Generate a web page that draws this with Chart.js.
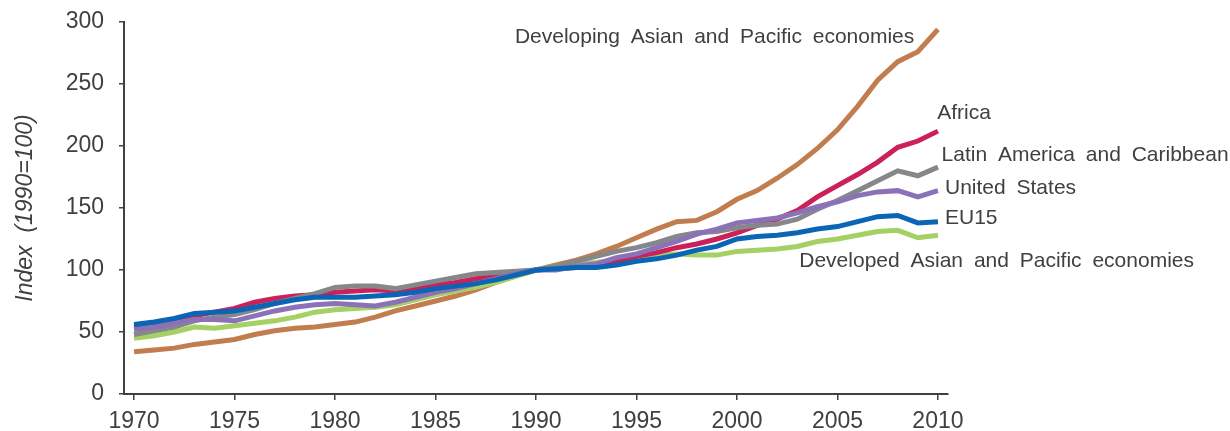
<!DOCTYPE html>
<html>
<head>
<meta charset="utf-8">
<script src="https://cdn.jsdelivr.net/npm/chart.js@4/dist/chart.umd.min.js"></script>
<style>
	body { margin: 0; background: #ffffff; }
	#chartCanvas { display: block; }
</style>
</head>
<body>
<canvas id="chartCanvas" width="1230" height="431"></canvas>
<script>
var years = [];
for(var yr = 1970; yr <= 2010; yr++){ years.push(yr); }

var xTickYears = [1970, 1975, 1980, 1985, 1990, 1995, 2000, 2005, 2010];

var developingAsia = [34, 35.5, 37, 40, 42, 44, 48, 51, 53, 54, 56, 58, 62, 67, 71, 75, 79, 84, 90, 95,
	100, 104, 108, 113, 119, 126, 133, 139, 140, 147, 157, 164, 174, 185, 198, 213, 232, 253, 268, 276, 294];
var africa = [54, 56, 59, 63, 66, 69, 74, 77, 79, 80, 82, 83, 84, 83, 85, 88, 90, 93, 96, 98,
	100, 101, 102, 104, 107, 111, 114, 118, 121, 125, 130, 136, 141, 148, 159, 168, 177, 187, 199, 204, 212];
var latinAmerica = [48, 51, 54, 59, 62, 64, 68, 73, 77, 81, 86, 87, 87, 85, 88, 91, 94, 97, 98, 99,
	100, 103, 107, 111, 115, 118, 122, 127, 130, 131, 134, 136, 137, 141, 149, 156, 164, 172, 180, 176, 183];
var unitedStates = [52, 54, 57, 60, 60, 59, 63, 67, 70, 72, 73, 72, 71, 74, 78, 82, 85, 89, 93, 97,
	100, 100, 103, 105, 110, 113, 118, 123, 129, 133, 138, 140, 142, 146, 151, 155, 160, 163, 164, 159, 164];
var eu15 = [56, 58, 61, 65, 66, 67, 70, 73, 76, 78, 78, 78, 79, 80, 82, 85, 87, 89, 92, 96,
	100, 101, 102, 102, 104, 107, 109, 112, 116, 119, 125, 127, 128, 130, 133, 135, 139, 143, 144, 138, 139];
var developedAsia = [45, 47, 50, 54, 53, 55, 57, 59, 62, 66, 68, 69, 70, 72, 76, 80, 83, 86, 90, 95,
	100, 103, 105, 106, 108, 110, 112, 113, 112, 112, 115, 116, 117, 119, 123, 125, 128, 131, 132, 126, 128];

var textColor = '#404040';
var axisColor = '#404040';

// labels written next to the lines, anchored in data space (year, index)
var lineLabels = [
	{ text: 'Developing Asian and Pacific economies', x: 1988.95, y: 288 },
	{ text: 'Africa', x: 2009.96, y: 226.5 },
	{ text: 'Latin America and Caribbean', x: 2010.18, y: 192.5 },
	{ text: 'United States', x: 2010.35, y: 166 },
	{ text: 'EU15', x: 2010.35, y: 142 },
	{ text: 'Developed Asian and Pacific economies', x: 2003.1, y: 107 }
];

function toPoints(vals){
	return years.map(function(yr, i){ return { x: yr, y: vals[i] }; });
}

function lineSet(label, vals, color){
	return { label: label, data: toPoints(vals), borderColor: color, backgroundColor: color,
		borderWidth: 5, pointRadius: 0, tension: 0, fill: false };
}

var lineLabelPlugin = {
	id: 'lineLabels',
	afterDraw: function(chart){
		var ctx = chart.ctx;
		var xs = chart.scales.x;
		var ys = chart.scales.y;
		ctx.save();
		ctx.font = '21px "Liberation Sans", Arial, sans-serif';
		ctx.fillStyle = textColor;
		ctx.textAlign = 'left';
		ctx.textBaseline = 'middle';
		if('wordSpacing' in ctx){ ctx.wordSpacing = '5px'; }
		for(var i in lineLabels){
			var lb = lineLabels[i];
			ctx.fillText(lb.text, xs.getPixelForValue(lb.x), ys.getPixelForValue(lb.y));
		}
		ctx.restore();
	}
};

var ctx = document.getElementById('chartCanvas');
var myChart = new Chart(ctx, {
	type: 'line',
	data: {
		datasets: [
			lineSet('EU15', eu15, '#0b65b5'),
			lineSet('United States', unitedStates, '#8b72b8'),
			lineSet('Latin America and Caribbean', latinAmerica, '#85878a'),
			lineSet('Africa', africa, '#cb2158'),
			lineSet('Developed Asian and Pacific economies', developedAsia, '#a4d064'),
			lineSet('Developing Asian and Pacific economies', developingAsia, '#c17d4d')
		]
	},
	options: {
		responsive: false,
		animation: false,
		layout: { padding: { top: 22, right: 282, bottom: 0, left: 0 } },
		scales: {
			x: {
				type: 'linear',
				min: 1969.5,
				max: 2010.5,
				afterBuildTicks: function(scale){
					scale.ticks = xTickYears.map(function(v){ return { value: v }; });
				},
				afterFit: function(scale){ scale.height = 37; },
				ticks: {
					color: textColor,
					font: { family: '"Liberation Sans", Arial, sans-serif', size: 23 },
					padding: 8,
					maxRotation: 0,
					callback: function(v){ return String(v); }
				},
				grid: { drawOnChartArea: false, drawTicks: true, tickLength: 6, color: axisColor, lineWidth: 1.5 },
				border: { display: true, color: axisColor, width: 2 }
			},
			y: {
				min: 0,
				max: 300,
				afterFit: function(scale){
					scale.width = 124;
					scale.paddingTop = 0;
					scale.paddingBottom = 0;
				},
				ticks: {
					stepSize: 50,
					color: textColor,
					font: { family: '"Liberation Sans", Arial, sans-serif', size: 23 },
					padding: 15
				},
				grid: { drawOnChartArea: false, drawTicks: true, tickLength: 5, color: axisColor, lineWidth: 1.5 },
				border: { display: true, color: axisColor, width: 2 },
				title: {
					display: true,
					text: 'Index  (1990=100)',
					color: textColor,
					font: { family: '"Liberation Sans", Arial, sans-serif', size: 23, style: 'italic' },
					padding: { top: 12, bottom: 0 }
				}
			}
		},
		plugins: {
			legend: { display: false },
			tooltip: { enabled: false }
		}
	},
	plugins: [lineLabelPlugin]
});
</script>
</body>
</html>
